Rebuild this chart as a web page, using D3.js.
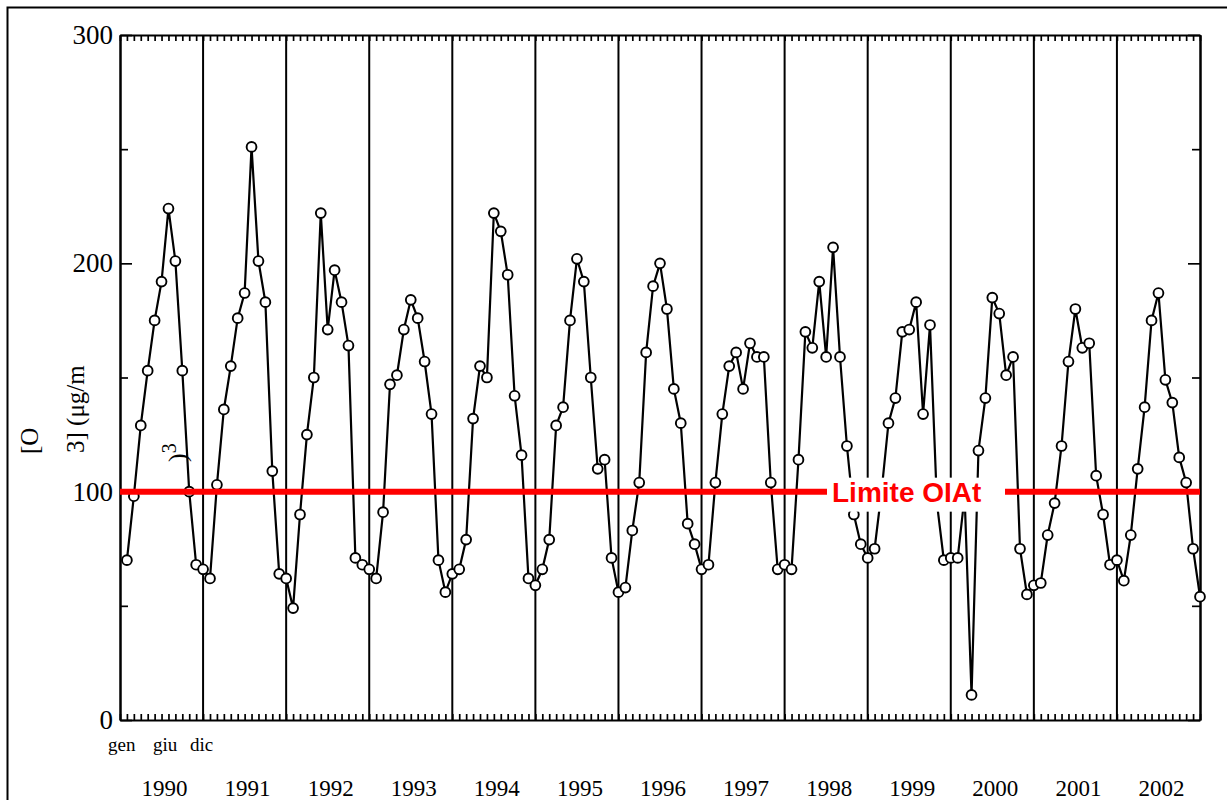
<!DOCTYPE html>
<html>
<head>
<meta charset="utf-8">
<script src="https://cdn.jsdelivr.net/npm/d3@7"></script>
<style>
  body { margin: 0; background: #fff; }
  svg { display: block; }
</style>
</head>
<body>
<div id="chart"></div>
<script>
// monthly mean O3 (ug/m3), gen..dic for each year
var years = [1990, 1991, 1992, 1993, 1994, 1995, 1996, 1997, 1998, 1999, 2000, 2001, 2002];
var o3 = [
  70, 98, 129, 153, 175, 192, 224, 201, 153, 100, 68, 66,      // 1990
  62, 103, 136, 155, 176, 187, 251, 201, 183, 109, 64, 62,     // 1991
  49, 90, 125, 150, 222, 171, 197, 183, 164, 71, 68, 66,       // 1992
  62, 91, 147, 151, 171, 184, 176, 157, 134, 70, 56, 64,       // 1993
  66, 79, 132, 155, 150, 222, 214, 195, 142, 116, 62, 59,      // 1994
  66, 79, 129, 137, 175, 202, 192, 150, 110, 114, 71, 56,      // 1995
  58, 83, 104, 161, 190, 200, 180, 145, 130, 86, 77, 66,       // 1996
  68, 104, 134, 155, 161, 145, 165, 159, 159, 104, 66, 68,     // 1997
  66, 114, 170, 163, 192, 159, 207, 159, 120, 90, 77, 71,      // 1998
  75, 100, 130, 141, 170, 171, 183, 134, 173, 95, 70, 71,      // 1999
  71, 98, 11, 118, 141, 185, 178, 151, 159, 75, 55, 59,        // 2000
  60, 81, 95, 120, 157, 180, 163, 165, 107, 90, 68, 70,        // 2001
  61, 81, 110, 137, 175, 187, 149, 139, 115, 104, 75, 54       // 2002
];
var monthLabels = ["gen", "giu", "dic"];
var yTicksMajor = [0, 100, 200, 300];
var yTicksMinor = [50, 150, 250];
var limitValue = 100;
var limitLabel = "Limite OIAt";

(function() {
  var width = 1227,
    height = 800,
    plotLeft = 120,
    plotRight = 1200,
    plotTop = 35,
    plotBottom = 720,
    serif = "'Liberation Serif', 'Times New Roman', serif",
    sans = "'Liberation Sans', Arial, sans-serif";

  var nMonths = years.length * 12;

  var svg = d3.select("#chart").append("svg")
    .attr("width", width)
    .attr("height", height);

  // outer frame of the picture (only left and top edges show)
  svg.append("rect")
    .attr("x", 7.5).attr("y", 7.5)
    .attr("width", width + 20).attr("height", height + 20)
    .attr("fill", "none").attr("stroke", "#000").attr("stroke-width", 2);

  var x = d3.scaleLinear().domain([0, nMonths]).range([plotLeft, plotRight]);
  var y = d3.scaleLinear().domain([0, 300]).range([plotBottom, plotTop]);

  function styleAxis(g) {
    g.selectAll(".domain").attr("stroke-width", 2);
    g.selectAll(".tick line").attr("stroke-width", 1.7);
    g.selectAll("text").attr("font-family", serif).attr("font-size", "27px").attr("fill", "#000");
  }

  // month ticks, top and bottom, pointing inwards
  svg.append("g")
    .attr("transform", "translate(0," + plotBottom + ")")
    .call(d3.axisBottom(x).tickValues(d3.range(0, nMonths + 1)).tickSizeInner(-6).tickSizeOuter(0).tickFormat(""))
    .call(styleAxis);
  svg.append("g")
    .attr("transform", "translate(0," + plotTop + ")")
    .call(d3.axisTop(x).tickValues(d3.range(0, nMonths + 1)).tickSizeInner(-6).tickSizeOuter(0).tickFormat(""))
    .call(styleAxis);

  // y axes, left with labels, right without
  svg.append("g")
    .attr("transform", "translate(" + plotLeft + ",0)")
    .call(d3.axisLeft(y).tickValues(yTicksMinor).tickSizeInner(-8).tickSizeOuter(0).tickFormat(""))
    .call(styleAxis);
  svg.append("g")
    .attr("transform", "translate(" + plotLeft + ",0)")
    .call(d3.axisLeft(y).tickValues(yTicksMajor).tickSizeInner(-12).tickSizeOuter(0).tickPadding(7))
    .call(styleAxis);
  svg.append("g")
    .attr("transform", "translate(" + plotRight + ",0)")
    .call(d3.axisRight(y).tickValues(yTicksMinor).tickSizeInner(-8).tickSizeOuter(0).tickFormat(""))
    .call(styleAxis);
  svg.append("g")
    .attr("transform", "translate(" + plotRight + ",0)")
    .call(d3.axisRight(y).tickValues(yTicksMajor).tickSizeInner(-12).tickSizeOuter(0).tickFormat(""))
    .call(styleAxis);

  // year separators
  svg.selectAll("line.year")
    .data(d3.range(1, years.length))
    .enter().append("line")
    .attr("class", "year")
    .attr("x1", function(d) { return x(d * 12); })
    .attr("x2", function(d) { return x(d * 12); })
    .attr("y1", plotTop).attr("y2", plotBottom)
    .attr("stroke", "#000").attr("stroke-width", 2);

  // the series
  var points = o3.map(function(v, i) { return { i: i + 1, v: v }; });

  svg.append("path")
    .datum(points)
    .attr("fill", "none")
    .attr("stroke", "#000")
    .attr("stroke-width", 2.2)
    .attr("d", d3.line().x(function(d) { return x(d.i); }).y(function(d) { return y(d.v); }));

  svg.selectAll("circle")
    .data(points)
    .enter().append("circle")
    .attr("cx", function(d) { return x(d.i); })
    .attr("cy", function(d) { return y(d.v); })
    .attr("r", 4.9)
    .attr("fill", "#fff")
    .attr("stroke", "#000")
    .attr("stroke-width", 1.9);

  // limit line and its label
  svg.append("line")
    .attr("x1", plotLeft).attr("x2", plotRight)
    .attr("y1", y(limitValue)).attr("y2", y(limitValue))
    .attr("stroke", "#ff0000").attr("stroke-width", 6);

  svg.append("rect")
    .attr("x", 827).attr("y", y(limitValue) - 14)
    .attr("width", 178).attr("height", 34)
    .attr("fill", "#fff");
  svg.append("text")
    .attr("x", 832).attr("y", y(limitValue) + 10)
    .attr("font-family", sans)
    .attr("font-weight", "bold")
    .attr("font-size", "28px")
    .attr("fill", "#ff0000")
    .text(limitLabel);

  // month names under the first year
  var monthX = [108, 153, 190];
  svg.selectAll("text.month")
    .data(monthLabels)
    .enter().append("text")
    .attr("class", "month")
    .attr("x", function(d, i) { return monthX[i]; })
    .attr("y", 751)
    .attr("font-family", serif)
    .attr("font-size", "19px")
    .text(function(d) { return d; });

  // year names
  svg.selectAll("text.yr")
    .data(years)
    .enter().append("text")
    .attr("class", "yr")
    .attr("x", function(d, i) { return x(i * 12 + 6) + 3; })
    .attr("y", 796)
    .attr("text-anchor", "middle")
    .attr("font-family", serif)
    .attr("font-size", "23px")
    .text(function(d) { return d; });

  // y axis title, broken over pieces as in the original
  function rotText(tx, ty, str, size) {
    return svg.append("text")
      .attr("transform", "translate(" + tx + "," + ty + ") rotate(-90)")
      .attr("font-family", serif)
      .attr("font-size", size + "px")
      .text(str);
  }
  rotText(38, 454, "[O", 25);
  rotText(84, 453, "3] (\u03bcg/m", 25);
  var t3 = rotText(186, 462, ")", 26);
  t3.append("tspan").attr("dy", "-0.5em").attr("font-size", "20px").text("3");
})();
</script>
</body>
</html>
